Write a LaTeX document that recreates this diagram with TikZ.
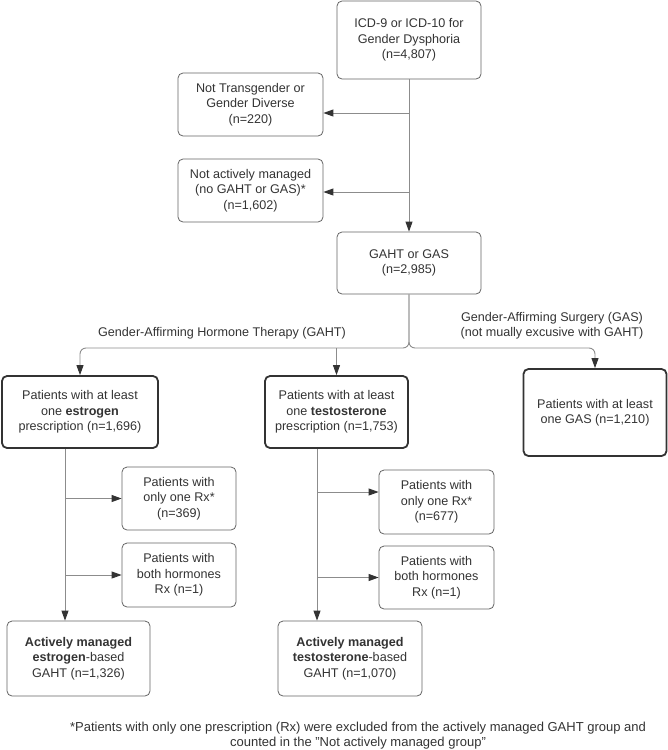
\documentclass[tikz,border=0pt]{standalone}
\usepackage{fontspec}
\setmainfont{Liberation Sans}
\usepackage{xcolor}
\usepackage{tikz}
\usetikzlibrary{arrows.meta,positioning,calc}
\definecolor{ink}{RGB}{51,51,51}
\definecolor{edge}{RGB}{100,100,100}
\definecolor{wire}{RGB}{140,140,140}

\begin{document}
\begin{tikzpicture}[x=1pt,y=-1pt,
    txt/.style={font=\fontsize{12.6}{15.5}\selectfont,text=ink,align=center},
    box/.style={txt,draw=edge,line width=0.8pt,rounded corners=5pt,inner sep=0pt},
    mainbox/.style={box,draw=ink,line width=1.8pt},
    link/.style={draw=wire,line width=0.9pt},
    arr/.style={link,-{Triangle[length=10pt,width=7pt,color=ink]}}]
      \useasboundingbox (0,0) rectangle (668,750);
      \node[box,minimum width=144pt,minimum height=78pt] (icd) at (409,40){ICD-9 or ICD-10 for\\Gender Dysphoria\\(n=4,807)};
      \node[box,minimum width=145pt,minimum height=63pt] (nottg) at (250.5,104.5){Not Transgender or\\Gender Diverse\\(n=220)};
      \node[box,minimum width=145pt,minimum height=63pt] (notam) at (250.5,190.5){Not actively managed\\(no GAHT or GAS)*\\(n=1,602)};
      \node[box,minimum width=144pt,minimum height=62pt] (gahtgas) at (409,263){GAHT or GAS\\(n=2,985)};
      \node[mainbox,minimum width=156pt,minimum height=72pt] (estro) at (80,412){Patients with at least\\one \textbf{estrogen}\\prescription (n=1,696)};
      \node[mainbox,minimum width=143pt,minimum height=72pt] (testo) at (336.5,412){Patients with at least\\one \textbf{testosterone}\\prescription (n=1,753)};
      \node[mainbox,minimum width=143pt,minimum height=87pt] (gas) at (595,412.5){Patients with at least\\one GAS (n=1,210)};
      \node[box,minimum width=114pt,minimum height=63pt] (e1) at (179,498.5){Patients with\\only one Rx*\\(n=369)};
      \node[box,minimum width=114pt,minimum height=64pt] (e2) at (179,575){Patients with\\both hormones\\Rx (n=1)};
      \node[box,minimum width=115pt,minimum height=64pt] (t1) at (436.5,502){Patients with\\only one Rx*\\(n=677)};
      \node[box,minimum width=115pt,minimum height=63pt] (t2) at (436.5,577.5){Patients with\\both hormones\\Rx (n=1)};
      \node[box,minimum width=143pt,minimum height=75pt] (eact) at (78.5,658.5){\textbf{Actively managed}\\\textbf{estrogen}-based\\GAHT (n=1,326)};
      \node[box,minimum width=144pt,minimum height=75pt] (tact) at (350,658.5){\textbf{Actively managed}\\\textbf{testosterone}-based\\GAHT (n=1,070)};
      \node[txt] (gahtlbl) at (222,333){Gender-Affirming Hormone Therapy (GAHT)};
      \node[txt] (gaslbl) at (552,325.5){Gender-Affirming Surgery (GAS)\\(not mually excusive with GAHT)};
      \node[txt,font=\fontsize{13}{15}\selectfont] (note) at (358,735.5){*Patients with only one prescription (Rx) were excluded from the actively managed GAHT group and\\counted in the "Not actively managed group"};
      \coordinate (j1) at (409,113);
      \coordinate (j2) at (409,192);
      \coordinate (fork) at (409,348);
      \coordinate (eline) at (65,0);
      \coordinate (tline) at (317,0);
      \coordinate (t1in) at ([yshift=10pt]t1.west);
      \draw[arr] (icd) -- (gahtgas);
      \draw[arr] (j1) -- (j1 -| nottg.east);
      \draw[arr] (j2) -- (j2 -| notam.east);
      \draw[arr,rounded corners=6pt] (gahtgas.south) -- (fork) -| (estro.north);
      \draw[arr,rounded corners=6pt] (gahtgas.south) -- (fork) -| (gas.north);
      \draw[arr] (fork -| testo.north) -- (testo.north);
      \draw[arr] (estro.south -| eline) -- (eact.north -| eline);
      \draw[arr] (e1.west -| eline) -- (e1.west);
      \draw[arr] (e2.west -| eline) -- (e2.west);
      \draw[arr] (testo.south -| tline) -- (tact.north -| tline);
      \draw[arr] (t1in -| tline) -- (t1in);
      \draw[arr] (t2.west -| tline) -- (t2.west);
    \end{tikzpicture}
\end{document}
